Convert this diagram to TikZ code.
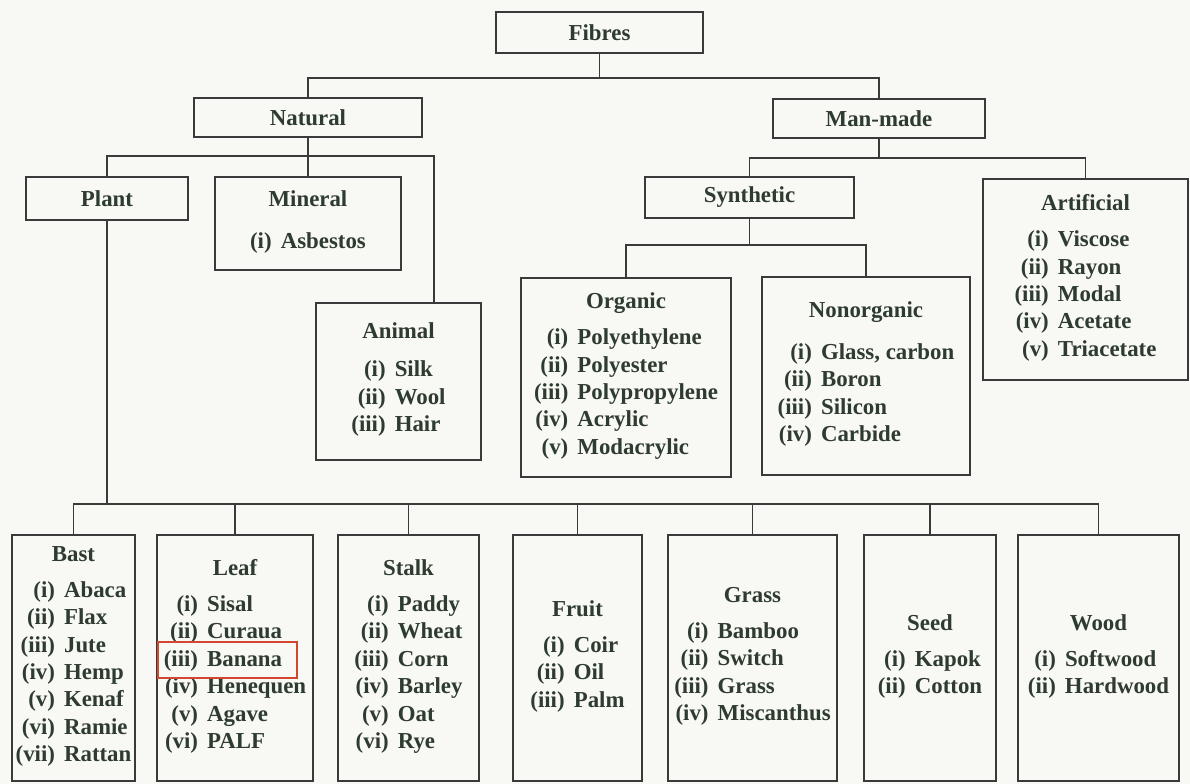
\documentclass[tikz,border=0pt]{standalone}
\usepackage{fontspec}
\setmainfont{Liberation Serif}
\definecolor{paper}{HTML}{F8F8F4}
\definecolor{ink}{HTML}{2E3B2F}
\definecolor{rule}{HTML}{3A3A3A}
\definecolor{markred}{HTML}{D2472E}
\tikzset{
	fbox/.style={draw=rule, line width=1.1pt, inner sep=0pt, align=center, text=ink, font=\fontsize{13}{15.6}\selectfont\bfseries},
	boxsize/.style 2 args={minimum width=#1*0.02cm, minimum height=#2*0.02cm},
	link/.style={draw=rule, line width=1.1pt},
}
\newcommand{\fibrelist}[3][5pt]{#2\\[#1]\begin{tabular}[t]{@{}r@{\hspace{0.4em}}l@{}}#3\end{tabular}}
\begin{document}
\begin{tikzpicture}[x=0.02cm, y=-0.02cm]
		\fill[paper] (0,0) rectangle (1190,784);
		% top levels
		\node[fbox, boxsize={207}{41}] (fibres) at (599.5,32.5) {Fibres};
		\node[fbox, boxsize={228}{39}] (natural) at (308,117.5) {Natural};
		\node[fbox, boxsize={212}{39}] (manmade) at (879,118.5) {Man-made};
		\node[fbox, boxsize={162}{43}] (plant) at (107,198.5) {Plant};
		\node[fbox, boxsize={186}{93}] (mineral) at (308,223.5) {\fibrelist[8pt]{Mineral}{(i)&Asbestos}};
		\node[fbox, boxsize={165}{157}] (animal) at (398.5,381.5) {\fibrelist[6pt]{Animal}{(i)&Silk\\(ii)&Wool\\(iii)&Hair}};
		\node[fbox, boxsize={209}{41}] (synthetic) at (749.5,197.5) {Synthetic};
		\node[fbox, boxsize={205}{201}] (artificial) at (1085.5,279.5) {\fibrelist{Artificial}{(i)&Viscose\\(ii)&Rayon\\(iii)&Modal\\(iv)&Acetate\\(v)&Triacetate}};
		\node[fbox, boxsize={210}{199}] (organic) at (626,377.5) {\fibrelist{Organic}{(i)&Polyethylene\\(ii)&Polyester\\(iii)&Polypropylene\\(iv)&Acrylic\\(v)&Modacrylic}};
		\node[fbox, boxsize={208}{198}] (nonorganic) at (866,376) {\fibrelist[8pt]{Nonorganic}{(i)&Glass, carbon\\(ii)&Boron\\(iii)&Silicon\\(iv)&Carbide}};
		% plant fibres
		\node[fbox, boxsize={123}{246}] (bast) at (73.5,658) {\fibrelist{Bast}{(i)&Abaca\\(ii)&Flax\\(iii)&Jute\\(iv)&Hemp\\(v)&Kenaf\\(vi)&Ramie\\(vii)&Rattan}};
		\node[fbox, boxsize={156}{246}] (leaf) at (235,658) {\fibrelist{Leaf}{(i)&Sisal\\(ii)&Curaua\\(iii)&Banana\\(iv)&Henequen\\(v)&Agave\\(vi)&PALF}};
		\node[fbox, boxsize={141}{246}] (stalk) at (408.5,658) {\fibrelist{Stalk}{(i)&Paddy\\(ii)&Wheat\\(iii)&Corn\\(iv)&Barley\\(v)&Oat\\(vi)&Rye}};
		\node[fbox, boxsize={129}{246}] (fruit) at (577.5,658) {\fibrelist{Fruit}{(i)&Coir\\(ii)&Oil\\(iii)&Palm}};
		\node[fbox, boxsize={169}{246}] (grass) at (752.5,658) {\fibrelist{Grass}{(i)&Bamboo\\(ii)&Switch\\(iii)&Grass\\(iv)&Miscanthus}};
		\node[fbox, boxsize={132}{246}] (seed) at (930,658) {\fibrelist{Seed}{(i)&Kapok\\(ii)&Cotton}};
		\node[fbox, boxsize={161}{246}] (wood) at (1098.5,658) {\fibrelist{Wood}{(i)&Softwood\\(ii)&Hardwood}};
		\node[draw=markred, line width=1.1pt, inner sep=0pt, boxsize={139}{36}] (banana) at (227.5,660) {};
		% connectors
		\draw[link] (fibres.south) -- +(0,24) -| (natural.north);
		\draw[link] (fibres.south) -- +(0,24) -| (manmade.north);
		\draw[link] (natural.south) -- +(0,18) -| (plant.north);
		\draw[link] (natural.south) -- (mineral.north);
		\draw[link] (natural.south) -- +(0,18) -| ([xshift=0.71cm]animal.north);
		\draw[link] (manmade.south) -- +(0,19) -| (synthetic.north);
		\draw[link] (manmade.south) -- +(0,19) -| (artificial.north);
		\draw[link] (synthetic.south) -- +(0,26) -| (organic.north);
		\draw[link] (synthetic.south) -- +(0,26) -| (nonorganic.north);
		\draw[link] (plant.south) -- +(0,283) -| (bast.north);
		\draw[link] (plant.south) -- +(0,283) -| (leaf.north);
		\draw[link] (plant.south) -- +(0,283) -| (stalk.north);
		\draw[link] (plant.south) -- +(0,283) -| (fruit.north);
		\draw[link] (plant.south) -- +(0,283) -| (grass.north);
		\draw[link] (plant.south) -- +(0,283) -| (seed.north);
		\draw[link] (plant.south) -- +(0,283) -| (wood.north);
\end{tikzpicture}
\end{document}
